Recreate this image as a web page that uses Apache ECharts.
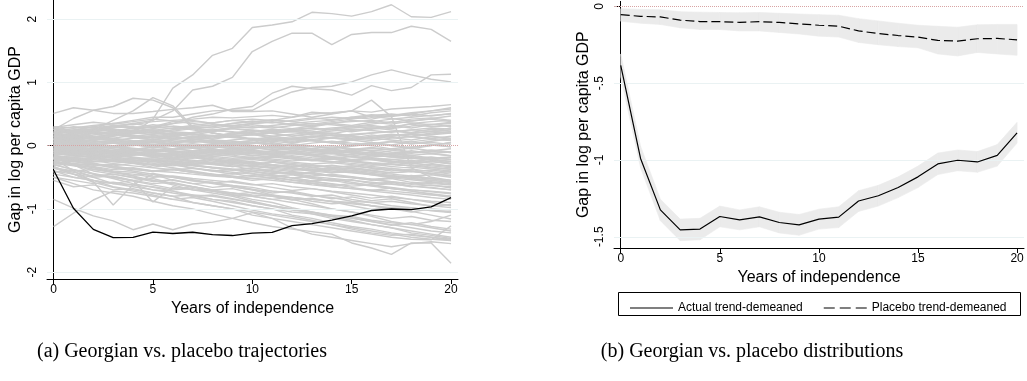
<!DOCTYPE html>
<html>
<head>
<meta charset="utf-8">
<script src="https://cdn.jsdelivr.net/npm/echarts@6/dist/echarts.min.js"></script>
<style>
html, body { margin: 0; padding: 0; background: #fff; }
#chart { width: 1027px; height: 381px; }
</style>
</head>
<body>
<div id="chart"></div>
<script>
var years = [0,1,2,3,4,5,6,7,8,9,10,11,12,13,14,15,16,17,18,19,20];
var xTicks = [0, 5, 10, 15, 20];
var yTicksA = [-2, -1, 0, 1, 2];
var yTicksB = [-1.5, -1, -0.5, 0];

// Georgian gap (black line in (a), solid line in (b))
var georgia = [-0.385,-0.99,-1.325,-1.455,-1.45,-1.368,-1.39,-1.37,-1.407,-1.422,-1.385,-1.372,-1.267,-1.233,-1.179,-1.11,-1.026,-1.002,-1.013,-0.97,-0.823];
var georgiaHi = [-0.31,-0.91,-1.255,-1.385,-1.38,-1.30,-1.325,-1.305,-1.34,-1.355,-1.32,-1.305,-1.20,-1.165,-1.11,-1.04,-0.955,-0.935,-0.945,-0.90,-0.755];
var georgiaLo = [-0.46,-1.05,-1.395,-1.525,-1.52,-1.435,-1.455,-1.435,-1.475,-1.49,-1.45,-1.44,-1.335,-1.30,-1.245,-1.18,-1.095,-1.07,-1.08,-1.04,-0.89];

// placebo average with its band, panel (b)
var placeboMean = [-0.054,-0.065,-0.069,-0.09,-0.099,-0.10,-0.104,-0.10,-0.105,-0.114,-0.123,-0.129,-0.16,-0.177,-0.19,-0.20,-0.222,-0.226,-0.211,-0.209,-0.218];
var placeboHi = [-0.015,-0.02,-0.022,-0.035,-0.038,-0.04,-0.042,-0.04,-0.045,-0.05,-0.054,-0.058,-0.08,-0.095,-0.11,-0.123,-0.13,-0.136,-0.12,-0.118,-0.118];
var placeboLo = [-0.097,-0.11,-0.118,-0.14,-0.15,-0.151,-0.16,-0.16,-0.17,-0.18,-0.194,-0.20,-0.235,-0.25,-0.262,-0.27,-0.31,-0.323,-0.30,-0.31,-0.319];

// placebo trajectories, panel (a)
var placeboRuns = [
  [0.05,0.10,0.12,0.15,0.20,0.42,0.91,1.12,1.43,1.54,1.87,1.91,1.96,2.11,2.09,2.05,2.12,2.23,2.04,2.03,2.12],
  [0.15,0.20,0.25,0.30,0.35,0.40,0.55,0.88,0.94,1.08,1.49,1.65,1.78,1.78,1.60,1.76,1.79,1.79,1.89,1.84,1.65],
  [0.10,0.15,0.20,0.20,0.25,0.30,0.35,0.45,0.50,0.58,0.62,0.83,0.94,0.90,0.88,0.80,0.95,0.87,0.92,1.12,1.13],
  [0.20,0.25,0.30,0.35,0.40,0.45,0.45,0.50,0.55,0.56,0.56,0.72,0.85,0.92,0.94,1.01,1.12,1.20,1.12,1.05,1.01],
  [0.51,0.60,0.56,0.51,0.51,0.54,0.575,0.60,0.64,0.54,0.54,0.55,0.50,0.45,0.50,0.55,0.45,0.48,0.50,0.55,0.60],
  [0.25,0.43,0.56,0.62,0.75,0.72,0.60,0.27,0.20,0.15,0.10,0.10,0.05,0.10,0.05,0.00,0.05,0.00,-0.05,0.00,0.05],
  [0.00,0.10,0.25,0.40,0.55,0.76,0.63,0.30,0.20,0.15,0.18,0.12,0.10,0.15,0.12,0.10,0.15,0.18,0.15,0.20,0.22],
  [0.10,0.15,0.12,0.18,0.20,0.22,0.25,0.28,0.30,0.35,0.38,0.40,0.45,0.53,0.51,0.55,0.72,0.46,-0.35,-0.50,-0.55],
  [-0.20,-0.40,-0.57,-0.94,-0.62,-0.45,-0.55,-0.60,-0.58,-0.65,-0.70,-0.72,-0.75,-0.80,-0.78,-0.85,-0.90,-0.88,-0.92,-0.95,-0.98],
  [-0.30,-0.38,-0.50,-0.60,-0.55,-0.89,-0.65,-0.70,-0.72,-0.78,-0.80,-0.85,-0.82,-0.88,-0.92,-0.90,-0.95,-1.00,-0.98,-1.02,-1.05],
  [-1.28,-1.07,-0.86,-0.72,-0.75,-0.80,-0.85,-0.90,-0.95,-1.00,-1.05,-1.10,-1.15,-1.20,-1.25,-1.30,-1.35,-1.40,-1.45,-1.48,-1.50],
  [-0.85,-0.99,-1.11,-1.19,-1.33,-1.24,-1.33,-1.24,-1.21,-1.15,-1.06,-1.15,-1.30,-1.40,-1.45,-1.50,-1.55,-1.60,-1.55,-1.52,-1.55],
  [-0.50,-0.60,-0.70,-0.75,-0.80,-0.88,-0.95,-1.00,-1.08,-1.15,-1.22,-1.28,-1.32,-1.36,-1.40,-1.54,-1.62,-1.72,-1.54,-1.54,-1.86],
  [-0.35,-0.45,-0.55,-0.60,-0.62,-0.70,-0.75,-0.80,-0.85,-0.88,-0.95,-1.00,-1.10,-1.15,-1.22,-1.28,-1.32,-1.38,-1.42,-1.45,-1.48],
  [-0.20,-0.30,-0.40,-0.45,-0.50,-0.55,-0.60,-0.65,-0.72,-0.78,-0.85,-0.90,-0.98,-1.05,-1.12,-1.18,-1.25,-1.30,-1.38,-1.42,-1.47],
  [-0.40,-0.50,-0.55,-0.65,-0.70,-0.75,-0.80,-0.90,-0.95,-1.00,-1.10,-1.15,-1.20,-1.25,-1.30,-1.35,-1.40,-1.45,-1.48,-1.49,-1.27],
  [-0.55,-0.65,-0.62,-0.70,-0.68,-0.75,-0.80,-0.78,-0.85,-0.90,-0.95,-1.00,-1.05,-1.08,-1.12,-1.15,-1.20,-1.25,-1.30,-1.35,-1.38],
  [-0.33,-0.45,-0.58,-0.66,-0.72,-0.78,-0.85,-0.82,-0.88,-0.95,-1.02,-1.08,-1.12,-1.18,-1.25,-1.32,-1.38,-1.42,-1.40,-1.45,-1.50],
  [-0.18,-0.30,-0.45,-0.52,-0.60,-0.66,-0.72,-0.80,-0.78,-0.84,-0.90,-0.96,-1.02,-1.06,-1.10,-1.14,-1.20,-1.26,-1.22,-1.28,-1.32],
  [0.30,0.28,0.32,0.35,0.33,0.38,0.40,0.42,0.45,0.44,0.46,0.48,0.45,0.50,0.52,0.55,0.53,0.58,0.60,0.62,0.65],
  [0.25,0.30,0.28,0.32,0.30,0.28,0.35,0.38,0.36,0.40,0.42,0.40,0.38,0.42,0.45,0.43,0.48,0.50,0.47,0.52,0.55],
  [0.22,0.20,0.25,0.22,0.28,0.30,0.27,0.30,0.33,0.31,0.35,0.37,0.34,0.32,0.36,0.38,0.40,0.36,0.42,0.44,0.40],
  [0.20,0.24,0.22,0.26,0.24,0.20,0.23,0.27,0.25,0.28,0.30,0.28,0.32,0.35,0.33,0.30,0.34,0.38,0.36,0.33,0.35],
  [0.18,0.15,0.20,0.18,0.22,0.25,0.22,0.20,0.24,0.27,0.25,0.22,0.26,0.28,0.25,0.28,0.30,0.27,0.31,0.34,0.30],
  [0.15,0.18,0.14,0.17,0.15,0.18,0.20,0.17,0.15,0.18,0.21,0.24,0.22,0.20,0.23,0.26,0.24,0.21,0.25,0.28,0.26],
  [0.12,0.10,0.14,0.12,0.16,0.13,0.15,0.18,0.16,0.14,0.17,0.15,0.18,0.21,0.19,0.16,0.20,0.23,0.20,0.22,0.25],
  [0.10,0.13,0.11,0.08,0.12,0.14,0.11,0.13,0.16,0.13,0.10,0.14,0.12,0.15,0.17,0.14,0.12,0.16,0.19,0.17,0.20],
  [0.08,0.05,0.09,0.11,0.08,0.06,0.10,0.08,0.05,0.09,0.12,0.10,0.07,0.10,0.13,0.11,0.08,0.12,0.14,0.11,0.15],
  [0.06,0.09,0.07,0.04,0.07,0.10,0.08,0.05,0.09,0.07,0.04,0.08,0.11,0.08,0.05,0.09,0.12,0.09,0.06,0.10,0.08],
  [0.05,0.02,0.05,0.08,0.05,0.02,0.04,0.07,0.04,0.01,0.05,0.03,0.00,0.04,0.07,0.04,0.02,0.06,0.03,0.05,0.02],
  [0.03,0.06,0.03,0.00,0.03,0.06,0.03,0.00,-0.02,0.02,0.00,-0.03,0.01,-0.01,-0.04,0.00,0.03,0.00,-0.03,0.01,-0.02],
  [0.02,-0.01,0.02,0.04,0.01,-0.02,0.01,0.03,0.00,-0.03,-0.01,-0.04,-0.02,-0.05,-0.02,-0.06,-0.03,-0.07,-0.04,-0.08,-0.05],
  [0.00,0.03,0.00,-0.03,0.00,0.02,-0.01,-0.04,-0.02,-0.05,-0.03,-0.06,-0.04,-0.08,-0.06,-0.09,-0.07,-0.10,-0.12,-0.09,-0.11],
  [-0.02,-0.04,-0.01,-0.03,-0.06,-0.03,-0.05,-0.08,-0.06,-0.09,-0.07,-0.10,-0.08,-0.11,-0.13,-0.11,-0.14,-0.12,-0.15,-0.13,-0.16],
  [-0.03,0.00,-0.03,-0.01,-0.04,-0.07,-0.05,-0.08,-0.10,-0.08,-0.11,-0.13,-0.11,-0.14,-0.12,-0.15,-0.18,-0.16,-0.19,-0.21,-0.19],
  [-0.05,-0.07,-0.04,-0.07,-0.05,-0.08,-0.11,-0.09,-0.12,-0.10,-0.13,-0.15,-0.13,-0.16,-0.19,-0.17,-0.20,-0.22,-0.20,-0.23,-0.25],
  [-0.06,-0.03,-0.06,-0.09,-0.07,-0.10,-0.08,-0.11,-0.14,-0.12,-0.15,-0.18,-0.16,-0.19,-0.21,-0.24,-0.22,-0.25,-0.27,-0.25,-0.28],
  [-0.08,-0.10,-0.08,-0.11,-0.13,-0.11,-0.14,-0.16,-0.14,-0.17,-0.20,-0.18,-0.21,-0.23,-0.26,-0.24,-0.27,-0.29,-0.32,-0.30,-0.33],
  [-0.09,-0.07,-0.10,-0.08,-0.11,-0.14,-0.12,-0.15,-0.17,-0.20,-0.18,-0.21,-0.24,-0.22,-0.25,-0.28,-0.31,-0.29,-0.32,-0.35,-0.37],
  [-0.10,-0.13,-0.11,-0.14,-0.12,-0.15,-0.18,-0.16,-0.19,-0.22,-0.20,-0.23,-0.26,-0.29,-0.27,-0.30,-0.33,-0.36,-0.34,-0.37,-0.40],
  [-0.12,-0.10,-0.13,-0.16,-0.14,-0.17,-0.15,-0.18,-0.21,-0.24,-0.22,-0.25,-0.28,-0.31,-0.34,-0.32,-0.35,-0.38,-0.41,-0.39,-0.42],
  [-0.13,-0.15,-0.18,-0.16,-0.19,-0.22,-0.20,-0.23,-0.26,-0.24,-0.27,-0.30,-0.33,-0.31,-0.34,-0.37,-0.40,-0.43,-0.41,-0.44,-0.47],
  [-0.15,-0.12,-0.15,-0.18,-0.21,-0.19,-0.22,-0.25,-0.28,-0.26,-0.29,-0.32,-0.35,-0.38,-0.36,-0.39,-0.42,-0.45,-0.48,-0.46,-0.50],
  [-0.16,-0.19,-0.17,-0.20,-0.23,-0.26,-0.24,-0.27,-0.30,-0.33,-0.31,-0.34,-0.37,-0.40,-0.43,-0.41,-0.44,-0.47,-0.50,-0.53,-0.55],
  [-0.18,-0.16,-0.19,-0.22,-0.20,-0.23,-0.26,-0.29,-0.27,-0.30,-0.33,-0.36,-0.39,-0.37,-0.40,-0.43,-0.46,-0.49,-0.52,-0.55,-0.58],
  [-0.20,-0.23,-0.26,-0.24,-0.27,-0.30,-0.28,-0.31,-0.34,-0.37,-0.40,-0.38,-0.41,-0.44,-0.47,-0.50,-0.53,-0.51,-0.54,-0.57,-0.60],
  [-0.22,-0.19,-0.22,-0.25,-0.28,-0.31,-0.29,-0.32,-0.35,-0.38,-0.41,-0.44,-0.42,-0.45,-0.48,-0.51,-0.54,-0.57,-0.60,-0.63,-0.65],
  [-0.25,-0.28,-0.31,-0.29,-0.32,-0.35,-0.38,-0.36,-0.39,-0.42,-0.45,-0.48,-0.51,-0.49,-0.52,-0.55,-0.58,-0.61,-0.64,-0.67,-0.70],
  [-0.28,-0.31,-0.29,-0.33,-0.36,-0.40,-0.38,-0.42,-0.45,-0.48,-0.52,-0.50,-0.54,-0.57,-0.60,-0.64,-0.62,-0.66,-0.70,-0.73,-0.76],
  [0.28,0.22,0.15,0.10,0.05,0.00,-0.05,-0.03,-0.08,-0.12,-0.10,-0.15,-0.18,-0.22,-0.20,-0.25,-0.28,-0.30,-0.27,-0.32,-0.35],
  [-0.30,-0.25,-0.20,-0.15,-0.12,-0.08,-0.05,0.00,0.03,0.05,0.08,0.10,0.12,0.15,0.13,0.18,0.20,0.22,0.25,0.23,0.28],
  [0.15,0.20,0.25,0.30,0.28,0.33,0.30,0.25,0.20,0.15,0.10,0.05,0.00,-0.05,-0.10,-0.08,-0.12,-0.15,-0.18,-0.20,-0.22],
  [-0.20,-0.25,-0.30,-0.35,-0.38,-0.40,-0.42,-0.45,-0.48,-0.50,-0.52,-0.55,-0.58,-0.60,-0.65,-0.68,-0.70,-0.72,-0.75,-0.78,-0.80],
  [0.05,0.10,0.08,0.15,0.20,0.18,0.25,0.30,0.28,0.32,0.35,0.38,0.33,0.30,0.35,0.40,0.38,0.42,0.45,0.48,0.50],
  [-0.10,-0.05,0.00,0.05,0.03,0.08,0.05,0.10,0.12,0.15,0.18,0.20,0.22,0.25,0.28,0.30,0.32,0.28,0.35,0.38,0.40],
  [-0.05,-0.10,-0.15,-0.20,-0.25,-0.30,-0.35,-0.40,-0.45,-0.50,-0.55,-0.52,-0.58,-0.62,-0.65,-0.68,-0.72,-0.75,-0.78,-0.82,-0.85],
  [0.10,0.05,0.00,-0.05,-0.10,-0.15,-0.12,-0.18,-0.22,-0.25,-0.28,-0.32,-0.30,-0.35,-0.38,-0.42,-0.45,-0.48,-0.52,-0.55,-0.58],
  [-0.35,-0.40,-0.38,-0.42,-0.45,-0.50,-0.48,-0.52,-0.55,-0.58,-0.62,-0.60,-0.65,-0.68,-0.72,-0.75,-0.78,-0.82,-0.85,-0.88,-0.90],
  [-0.40,-0.45,-0.50,-0.48,-0.55,-0.60,-0.58,-0.65,-0.70,-0.68,-0.75,-0.78,-0.82,-0.85,-0.88,-0.92,-0.95,-0.98,-1.00,-1.02,-1.05],
  [-0.30,-0.38,-0.45,-0.50,-0.55,-0.52,-0.60,-0.65,-0.70,-0.75,-0.80,-0.85,-0.90,-0.95,-1.00,-1.05,-1.10,-1.15,-1.12,-1.18,-1.20],
  [-0.25,-0.30,-0.35,-0.42,-0.48,-0.55,-0.62,-0.70,-0.75,-0.80,-0.88,-0.95,-1.00,-1.08,-1.15,-1.20,-1.25,-1.30,-1.35,-1.40,-1.45],
  [-0.15,-0.20,-0.28,-0.35,-0.40,-0.45,-0.50,-0.55,-0.60,-0.65,-0.70,-0.78,-0.85,-0.92,-1.00,-1.05,-1.12,-1.20,-1.25,-1.30,-1.35],
  [-0.45,-0.50,-0.55,-0.60,-0.65,-0.70,-0.72,-0.78,-0.80,-0.85,-0.90,-0.95,-1.00,-1.05,-1.10,-1.12,-1.18,-1.22,-1.25,-1.20,-1.10],
  [0.20,0.15,0.10,0.12,0.08,0.05,0.10,0.15,0.12,0.18,0.20,0.15,0.10,0.08,0.05,0.02,0.00,-0.05,-0.02,0.00,0.05],
  [0.12,0.18,0.22,0.28,0.35,0.30,0.38,0.40,0.35,0.30,0.28,0.32,0.35,0.38,0.40,0.45,0.42,0.48,0.52,0.55,0.58],
  [-0.12,-0.08,-0.05,-0.10,-0.15,-0.12,-0.18,-0.20,-0.15,-0.10,-0.12,-0.08,-0.05,-0.08,-0.12,-0.10,-0.15,-0.18,-0.20,-0.18,-0.22],
  [0.00,-0.05,-0.08,-0.12,-0.10,-0.15,-0.20,-0.25,-0.22,-0.28,-0.32,-0.35,-0.30,-0.38,-0.42,-0.40,-0.45,-0.50,-0.48,-0.52,-0.55],
  [-0.22,-0.18,-0.15,-0.12,-0.15,-0.10,-0.08,-0.12,-0.10,-0.05,-0.08,-0.10,-0.12,-0.15,-0.12,-0.18,-0.20,-0.22,-0.25,-0.22,-0.28],
  [0.25,0.20,0.22,0.18,0.15,0.12,0.15,0.10,0.08,0.05,0.08,0.02,0.00,-0.02,0.00,-0.05,-0.08,-0.05,-0.10,-0.12,-0.10],
  [-0.50,-0.55,-0.60,-0.58,-0.62,-0.65,-0.70,-0.68,-0.72,-0.75,-0.78,-0.80,-0.82,-0.85,-0.88,-0.90,-0.95,-1.00,-1.05,-1.00,-1.02],
  [0.08,0.12,0.15,0.10,0.05,0.08,0.02,-0.02,0.00,-0.05,-0.08,-0.12,-0.10,-0.15,-0.18,-0.22,-0.20,-0.25,-0.28,-0.30,-0.32],
  [-0.18,-0.22,-0.20,-0.25,-0.22,-0.28,-0.32,-0.30,-0.35,-0.38,-0.35,-0.40,-0.45,-0.42,-0.48,-0.50,-0.55,-0.52,-0.58,-0.60,-0.62],
  [0.18,0.22,0.26,0.24,0.20,0.22,0.18,0.20,0.24,0.22,0.18,0.20,0.15,0.18,0.20,0.15,0.12,0.15,0.18,0.15,0.12],
  [-0.08,-0.12,-0.10,-0.14,-0.18,-0.22,-0.25,-0.30,-0.28,-0.32,-0.38,-0.42,-0.45,-0.50,-0.55,-0.60,-0.62,-0.68,-0.70,-0.72,-0.75],
  [0.02,0.06,0.10,0.08,0.12,0.16,0.14,0.10,0.06,0.02,0.05,0.00,-0.04,-0.08,-0.05,-0.10,-0.14,-0.18,-0.15,-0.20,-0.18],
  [-0.28,-0.24,-0.28,-0.32,-0.28,-0.34,-0.30,-0.36,-0.40,-0.38,-0.44,-0.48,-0.46,-0.52,-0.56,-0.54,-0.60,-0.58,-0.64,-0.66,-0.70],
  [0.14,0.10,0.14,0.18,0.14,0.10,0.06,0.10,0.14,0.18,0.22,0.26,0.24,0.28,0.25,0.22,0.26,0.30,0.34,0.30,0.32],
  [0.27,0.24,0.30,0.26,0.22,0.27,0.31,0.28,0.24,0.29,0.33,0.30,0.27,0.31,0.35,0.32,0.37,0.34,0.39,0.42,0.38],
  [0.22,0.27,0.23,0.19,0.24,0.20,0.16,0.21,0.25,0.21,0.17,0.22,0.26,0.23,0.19,0.24,0.28,0.25,0.21,0.26,0.23],
  [0.16,0.12,0.17,0.21,0.17,0.13,0.18,0.14,0.10,0.15,0.11,0.07,0.12,0.08,0.04,0.09,0.05,0.01,0.06,0.02,-0.02],
  [0.11,0.16,0.12,0.17,0.13,0.09,0.14,0.19,0.15,0.20,0.24,0.20,0.25,0.21,0.26,0.31,0.27,0.32,0.28,0.33,0.37],
  [0.07,0.03,0.08,0.04,0.00,0.05,0.01,-0.03,0.02,-0.02,-0.06,-0.02,-0.07,-0.11,-0.07,-0.12,-0.16,-0.12,-0.17,-0.21,-0.25],
  [0.04,0.08,0.12,0.09,0.05,0.10,0.14,0.11,0.07,0.03,0.08,0.12,0.09,0.13,0.17,0.14,0.10,0.15,0.19,0.23,0.20],
  [0.01,-0.03,0.01,-0.02,-0.06,-0.02,0.02,-0.01,-0.05,-0.09,-0.05,-0.01,-0.04,-0.08,-0.12,-0.08,-0.04,-0.07,-0.11,-0.07,-0.10],
  [-0.01,0.03,-0.01,-0.05,-0.09,-0.06,-0.10,-0.14,-0.11,-0.15,-0.19,-0.16,-0.20,-0.24,-0.21,-0.25,-0.29,-0.33,-0.30,-0.34,-0.38],
  [-0.04,-0.08,-0.05,-0.01,-0.05,-0.09,-0.06,-0.02,0.02,-0.01,0.03,0.07,0.04,0.08,0.12,0.09,0.13,0.17,0.14,0.18,0.22],
  [-0.07,-0.04,-0.08,-0.12,-0.09,-0.05,-0.09,-0.13,-0.17,-0.14,-0.10,-0.14,-0.18,-0.22,-0.19,-0.23,-0.20,-0.24,-0.28,-0.25,-0.29],
  [-0.11,-0.15,-0.12,-0.08,-0.12,-0.16,-0.20,-0.17,-0.21,-0.25,-0.29,-0.26,-0.30,-0.34,-0.38,-0.35,-0.39,-0.43,-0.40,-0.44,-0.48],
  [-0.14,-0.10,-0.14,-0.18,-0.15,-0.11,-0.15,-0.12,-0.08,-0.12,-0.16,-0.13,-0.09,-0.13,-0.17,-0.14,-0.10,-0.14,-0.11,-0.07,-0.11],
  [-0.17,-0.21,-0.25,-0.22,-0.26,-0.30,-0.27,-0.31,-0.35,-0.39,-0.36,-0.40,-0.44,-0.48,-0.45,-0.49,-0.53,-0.57,-0.61,-0.58,-0.62],
  [-0.19,-0.15,-0.19,-0.23,-0.27,-0.24,-0.28,-0.25,-0.29,-0.33,-0.30,-0.26,-0.30,-0.34,-0.31,-0.35,-0.39,-0.36,-0.40,-0.44,-0.41],
  [-0.21,-0.25,-0.29,-0.33,-0.37,-0.41,-0.38,-0.42,-0.46,-0.50,-0.47,-0.51,-0.55,-0.59,-0.63,-0.60,-0.64,-0.68,-0.72,-0.76,-0.80],
  [-0.24,-0.20,-0.24,-0.28,-0.25,-0.21,-0.25,-0.29,-0.26,-0.22,-0.26,-0.30,-0.34,-0.31,-0.35,-0.32,-0.36,-0.40,-0.37,-0.41,-0.45],
  [-0.27,-0.32,-0.37,-0.42,-0.47,-0.44,-0.49,-0.54,-0.59,-0.56,-0.61,-0.66,-0.71,-0.68,-0.73,-0.78,-0.83,-0.80,-0.85,-0.90,-0.95],
  [-0.32,-0.28,-0.33,-0.38,-0.35,-0.40,-0.37,-0.42,-0.47,-0.44,-0.49,-0.46,-0.51,-0.56,-0.53,-0.58,-0.63,-0.60,-0.65,-0.62,-0.67],
  [-0.36,-0.42,-0.48,-0.45,-0.51,-0.57,-0.54,-0.60,-0.66,-0.63,-0.69,-0.75,-0.72,-0.78,-0.84,-0.81,-0.87,-0.84,-0.90,-0.96,-0.93],
  [-0.42,-0.38,-0.44,-0.50,-0.56,-0.62,-0.68,-0.65,-0.71,-0.77,-0.74,-0.80,-0.86,-0.83,-0.89,-0.95,-1.01,-0.98,-1.04,-1.10,-1.16],
  [0.29,0.33,0.37,0.34,0.38,0.42,0.39,0.35,0.31,0.35,0.39,0.36,0.40,0.44,0.41,0.45,0.49,0.46,0.50,0.47,0.51],
  [0.19,0.23,0.27,0.31,0.28,0.24,0.28,0.32,0.36,0.40,0.37,0.41,0.38,0.34,0.38,0.42,0.46,0.43,0.39,0.43,0.47],
  [0.13,0.08,0.03,0.07,0.02,-0.03,0.01,-0.04,-0.09,-0.05,-0.10,-0.15,-0.11,-0.16,-0.21,-0.17,-0.22,-0.27,-0.23,-0.28,-0.33],
  [0.09,0.14,0.19,0.15,0.20,0.25,0.21,0.17,0.22,0.27,0.23,0.19,0.15,0.20,0.16,0.12,0.17,0.13,0.09,0.14,0.10],
  [-0.02,-0.07,-0.12,-0.08,-0.13,-0.18,-0.23,-0.19,-0.24,-0.29,-0.25,-0.30,-0.35,-0.40,-0.36,-0.41,-0.46,-0.51,-0.47,-0.52,-0.57],
  [-0.06,-0.01,-0.06,-0.02,0.03,-0.01,0.04,0.00,-0.04,0.01,-0.03,-0.07,-0.02,-0.06,-0.10,-0.05,-0.09,-0.13,-0.08,-0.12,-0.16],
  [-0.09,-0.14,-0.19,-0.24,-0.20,-0.25,-0.30,-0.35,-0.40,-0.45,-0.41,-0.46,-0.51,-0.56,-0.61,-0.66,-0.71,-0.67,-0.72,-0.77,-0.82],
  [-0.13,-0.09,-0.05,-0.09,-0.13,-0.09,-0.05,-0.01,-0.05,-0.09,-0.05,-0.01,0.03,-0.01,-0.05,-0.01,0.03,0.07,0.03,0.07,0.11],
  [-0.26,-0.31,-0.34,-0.40,-0.42,-0.48,-0.50,-0.56,-0.58,-0.63,-0.66,-0.72,-0.74,-0.79,-0.82,-0.88,-0.90,-0.95,-0.98,-1.03,-1.06]
];

function pairs(vals) {
  return years.map(function (y, i) { return [y, vals[i]]; });
}

var sans = '"Liberation Sans", Arial, sans-serif';
var gridColor = '#eaf2f3';
var bandColor = '#ebebeb';
var zeroLine = { color: '#d8a4a4', type: 'dotted', width: 1 };

function gridLines(ticks) {
  var d = ticks.map(function (v) {
    return { yAxis: v, lineStyle: v === 0 ? zeroLine : { color: gridColor, width: 1, type: 'solid' } };
  });
  return { silent: true, symbol: 'none', label: { show: false }, animation: false, data: d };
}

// shaded band between lo and hi, drawn segment by segment through the axes
function band(lo, hi) {
  return {
    type: 'custom', xAxisIndex: 1, yAxisIndex: 1, silent: true, z: 2,
    data: years.map(function (y, i) { return [y, lo[i], hi[i]]; }),
    encode: { x: 0, y: [1, 2] },
    renderItem: function (params, api) {
      var i = params.dataIndex;
      if (i >= years.length - 1) return;
      var pts = [
        api.coord([years[i], lo[i]]),
        api.coord([years[i + 1], lo[i + 1]]),
        api.coord([years[i + 1], hi[i + 1]]),
        api.coord([years[i], hi[i]])
      ];
      return { type: 'polygon', shape: { points: pts }, style: { fill: bandColor, stroke: bandColor, lineWidth: 0.6 } };
    }
  };
}

function xAxisOpt(idx, min, max, gap) {
  return {
    type: 'value', gridIndex: idx, min: min, max: max,
    name: 'Years of independence', nameLocation: 'middle', nameGap: gap,
    nameTextStyle: { fontFamily: sans, fontSize: 16, color: '#000' },
    axisLine: { onZero: false, lineStyle: { color: '#000', width: 1 } },
    axisTick: { length: 5, customValues: xTicks, lineStyle: { color: '#000' } },
    axisLabel: { customValues: xTicks, margin: 5, fontFamily: sans, fontSize: 12, color: '#000' },
    splitLine: { show: false }
  };
}

function yAxisOpt(idx, min, max, ticks, gap) {
  return {
    type: 'value', gridIndex: idx, min: min, max: max,
    name: 'Gap in log per capita GDP', nameLocation: 'middle', nameGap: gap,
    nameTextStyle: { fontFamily: sans, fontSize: 16, color: '#000' },
    axisLine: { show: true, lineStyle: { color: '#000', width: 1 } },
    axisTick: { show: true, length: 5, customValues: ticks, lineStyle: { color: '#000' } },
    axisLabel: {
      customValues: ticks, rotate: 90, margin: 8, fontFamily: sans, fontSize: 12, color: '#000',
      formatter: function (v) { return String(v).replace('0.', '.'); }
    },
    splitLine: { show: false }
  };
}

var series = [];
series.push({ type: 'line', xAxisIndex: 0, yAxisIndex: 0, data: [], silent: true, markLine: gridLines(yTicksA), z: 1 });
placeboRuns.forEach(function (run) {
  series.push({
    type: 'line', xAxisIndex: 0, yAxisIndex: 0, data: pairs(run), symbol: 'none', silent: true, z: 2,
    lineStyle: { color: '#cccccc', width: 1.4 }
  });
});
series.push({
  type: 'line', xAxisIndex: 0, yAxisIndex: 0, data: pairs(georgia), symbol: 'none', silent: true, z: 5,
  lineStyle: { color: '#000', width: 1.3 }
});

// panel (b)
series.push({ type: 'line', xAxisIndex: 1, yAxisIndex: 1, data: [], silent: true, markLine: gridLines(yTicksB), z: 1 });
series.push(band(placeboLo, placeboHi));
series.push(band(georgiaLo, georgiaHi));
series.push({
  name: 'Actual trend-demeaned', type: 'line', xAxisIndex: 1, yAxisIndex: 1, data: pairs(georgia),
  symbol: 'none', silent: true, z: 5, itemStyle: { color: '#000' }, lineStyle: { color: '#000', width: 1.2 }
});
series.push({
  name: 'Placebo trend-demeaned', type: 'line', xAxisIndex: 1, yAxisIndex: 1, data: pairs(placeboMean),
  symbol: 'none', silent: true, z: 5, itemStyle: { color: '#000' }, lineStyle: { color: '#000', width: 1.2, type: [9, 4] }
});

var chart = echarts.init(document.getElementById('chart'));
chart.setOption({
  animation: false,
  backgroundColor: '#fff',
  grid: [
    { left: 47, top: 0, width: 411, height: 279 },
    { left: 614, top: 0, width: 410, height: 248 }
  ],
  xAxis: [xAxisOpt(0, -0.33, 20.35, 16), xAxisOpt(1, -0.34, 20.35, 13)],
  yAxis: [yAxisOpt(0, -2.11, 2.305, yTicksA, 23), yAxisOpt(1, -1.573, 0.032, yTicksB, 22)],
  legend: {
    data: [
      { name: 'Actual trend-demeaned', icon: 'path://M0,0h43v1h-43z' },
      { name: 'Placebo trend-demeaned', icon: 'path://M0,0h11v1h-11zM16,0h11v1h-11zM32,0h11v1h-11z' }
    ],
    left: 625, top: 297, itemWidth: 43, itemHeight: 1.2, itemGap: 21,
    textStyle: { fontFamily: sans, fontSize: 12, color: '#000' },
    selectedMode: false
  },
  graphic: [
    { type: 'rect', shape: { x: 618.5, y: 292.5, width: 402, height: 23 }, style: { fill: 'none', stroke: '#000', lineWidth: 1 } },
    { type: 'text', x: 182, y: 352, style: { text: '(a) Georgian vs. placebo trajectories', font: '20px "Liberation Serif", serif', fill: '#000', align: 'center', verticalAlign: 'middle' } },
    { type: 'text', x: 752, y: 352, style: { text: '(b) Georgian vs. placebo distributions', font: '20px "Liberation Serif", serif', fill: '#000', align: 'center', verticalAlign: 'middle' } }
  ],
  series: series
});
</script>
</body>
</html>
